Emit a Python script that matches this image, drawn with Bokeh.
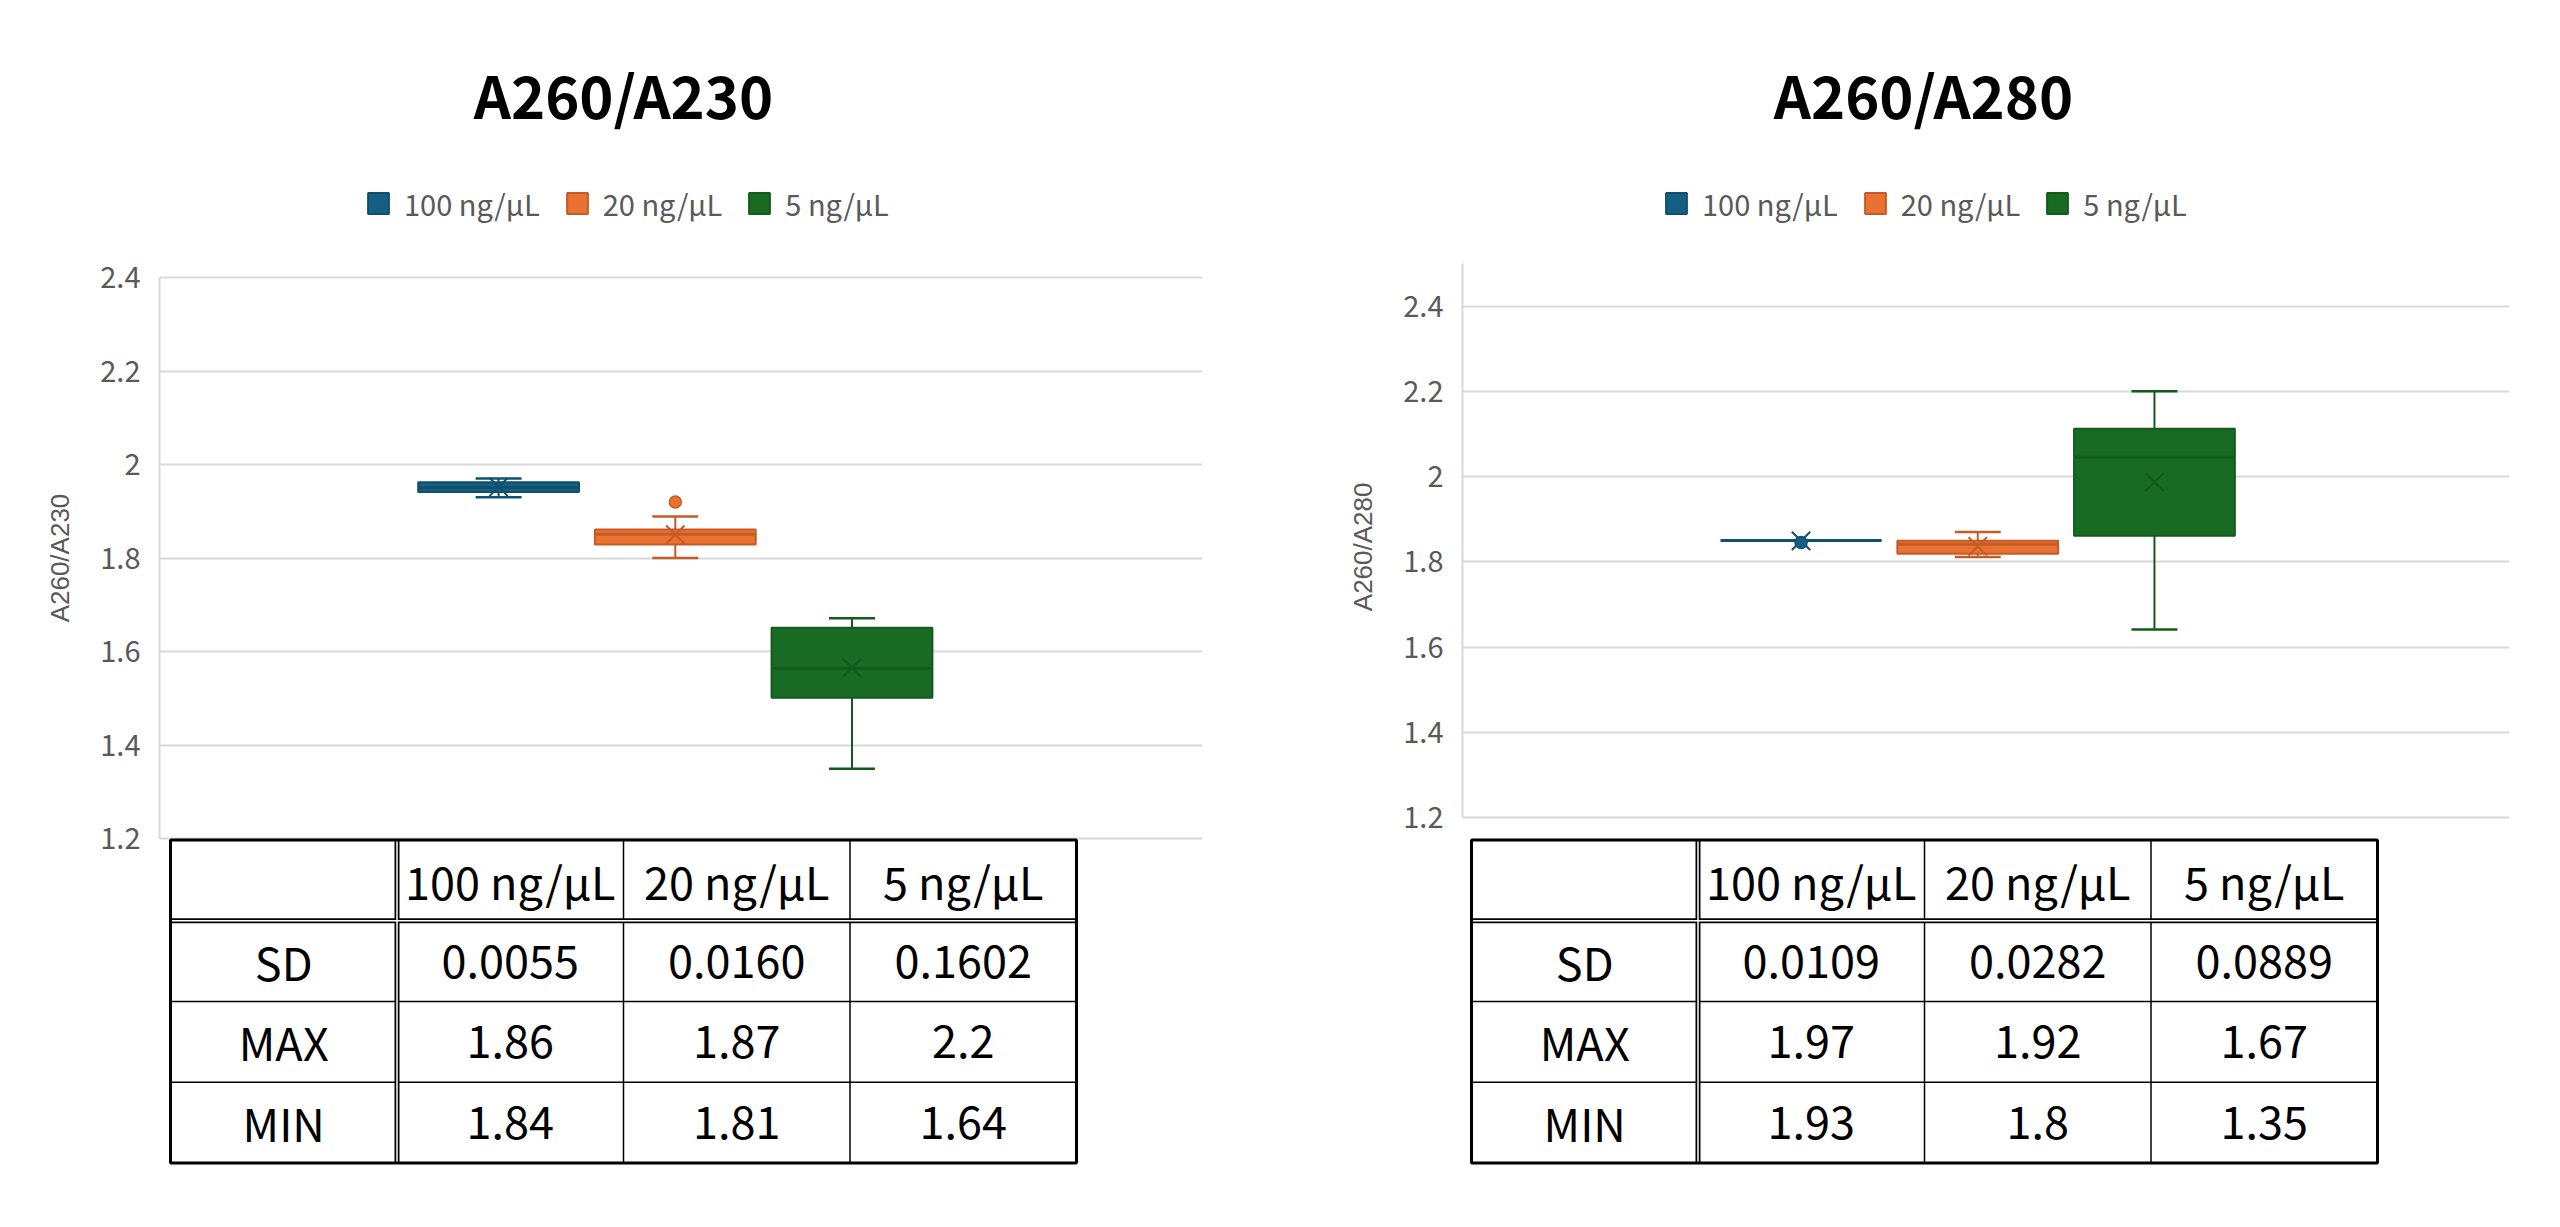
from bokeh.plotting import figure
from bokeh.models import Range1d, FixedTicker, Legend, LegendItem, Label, Title
from bokeh.layouts import row
from bokeh.embed import file_html
from bokeh.resources import INLINE
from bokeh.core.properties import value

# ---------------- data ----------------
categories = ["100 ng/μL", "20 ng/μL", "5 ng/μL"]

# A260/A230 box statistics
a230_q1 = [1.941, 1.829, 1.501]
a230_median = [1.951, 1.851, 1.564]
a230_q3 = [1.962, 1.861, 1.651]
a230_low = [1.930, 1.800, 1.349]
a230_high = [1.970, 1.889, 1.671]
a230_mean = [1.952, 1.850, 1.565]
a230_outlier_cat = ["20 ng/μL"]
a230_outlier_val = [1.920]

# A260/A280 box statistics
a280_q1 = [1.850, 1.819, 1.861]
a280_median = [1.850, 1.841, 2.045]
a280_q3 = [1.850, 1.849, 2.112]
a280_low = [1.850, 1.811, 1.641]
a280_high = [1.850, 1.870, 2.200]
a280_mean = [1.849, 1.836, 1.987]
a280_outlier_cat = ["100 ng/μL"]
a280_outlier_val = [1.845]

ytick_values = [1.2, 1.4, 1.6, 1.8, 2.0, 2.2, 2.4]
ytick_labels = ["1.2", "1.4", "1.6", "1.8", "2", "2.2", "2.4"]

table_row_labels = ["SD", "MAX", "MIN"]
left_table_sd = ["0.0055", "0.0160", "0.1602"]
left_table_max = ["1.86", "1.87", "2.2"]
left_table_min = ["1.84", "1.81", "1.64"]
right_table_sd = ["0.0109", "0.0282", "0.0889"]
right_table_max = ["1.97", "1.92", "1.67"]
right_table_min = ["1.93", "1.8", "1.35"]

# ---------------- style / layout ----------------
FILL = ["#156082", "#E97132", "#196B24"]
EDGE = ["#10506E", "#C45C26", "#135A1D"]
GRID = "#D9D9D9"
TXT = "#595959"
JP = "Noto Sans CJK JP"
FIG_H = 1210           # frame spans the full height
BOX_W = 0.91
CAP_W = 0.26
CAT_PX = 176.7
ROW_PX = 80.75
COL_PX = 226.5
TABLE_TOP_PX = 839.5   # table top border, px from top of figure
YLABEL_SIZE = 26
YLABEL_LEN_EM = 4.95   # approx. length of "A260/A2x0" in em


def make_panel(title, ylabel, ylabel_mid, q1, med, q3, lo, hi, mean, out_cat, out_val,
               fig_w, b_left, b_right, x_start, base_px, px_per_unit, axis_top,
               table_left_px, tbl, legend_x, title_x):
    frame_w = fig_w - b_left - b_right
    x_end = x_start + frame_w / CAT_PX
    y_start = 1.2 - (FIG_H - base_px) / px_per_unit
    y_end = 1.2 + base_px / px_per_unit

    p = figure(width=fig_w, height=FIG_H, title=None, toolbar_location=None,
               output_backend="svg", x_range=Range1d(x_start, x_end),
               y_range=Range1d(y_start, y_end), x_axis_location=None,
               min_border_left=b_left, min_border_right=b_right,
               min_border_top=0, min_border_bottom=0)
    p.outline_line_color = None
    p.background_fill_color = "white"
    p.border_fill_color = "white"
    p.xgrid.visible = False

    ticker = FixedTicker(ticks=ytick_values)
    ax = p.yaxis[0]
    ax.ticker = ticker
    ax.major_label_overrides = dict(zip(ytick_values, ytick_labels))
    ax.bounds = (1.2, axis_top)
    ax.axis_line_color = GRID
    ax.axis_line_width = 2
    ax.major_tick_line_color = None
    ax.minor_tick_line_color = None
    ax.major_tick_out = 0
    ax.major_tick_in = 0
    ax.major_label_standoff = 19
    ax.major_label_text_font = JP
    ax.major_label_text_font_size = "29px"
    ax.major_label_text_color = TXT

    g = p.ygrid[0]
    g.ticker = ticker
    g.grid_line_color = GRID
    g.grid_line_width = 2

    # vertical axis title, placed so that it is centred on the tick span
    label_center_px = base_px - (ylabel_mid - 1.2) * px_per_unit
    label_start_px = label_center_px + YLABEL_LEN_EM * YLABEL_SIZE / 2
    p.add_layout(Title(text=ylabel, align="left", offset=FIG_H - label_start_px,
                       text_font="Liberation Sans", text_font_style="normal",
                       text_font_size=f"{YLABEL_SIZE}px", text_color=TXT,
                       standoff=46), "left")

    n = len(categories)
    pos = [i - (n - 1) / 2 for i in range(n)]
    items = []
    for i in range(n):
        r = p.vbar(x=[pos[i]], width=BOX_W, bottom=[q1[i]], top=[q3[i]],
                   fill_color=FILL[i], line_color=EDGE[i], line_width=2)
        items.append(LegendItem(label=categories[i], renderers=[r]))
        p.segment(x0=[pos[i] - BOX_W / 2], x1=[pos[i] + BOX_W / 2],
                  y0=[med[i]], y1=[med[i]], line_color=EDGE[i], line_width=3)
        p.segment(x0=[pos[i], pos[i]], x1=[pos[i], pos[i]],
                  y0=[q3[i], q1[i]], y1=[hi[i], lo[i]],
                  line_color=EDGE[i], line_width=2)
        p.segment(x0=[pos[i] - CAP_W / 2] * 2, x1=[pos[i] + CAP_W / 2] * 2,
                  y0=[hi[i], lo[i]], y1=[hi[i], lo[i]],
                  line_color=EDGE[i], line_width=2.5)
        p.scatter(x=[pos[i]], y=[mean[i]], marker="x", size=26,
                  line_color=EDGE[i], line_width=2)
    for c, v in zip(out_cat, out_val):
        i = categories.index(c)
        p.scatter(x=[pos[i]], y=[v], marker="circle", size=12,
                  fill_color=FILL[i], line_color=EDGE[i], line_width=1.5)

    legend = Legend(items=items, location=(legend_x, FIG_H - 224),
                    orientation="horizontal",
                    glyph_width=26, glyph_height=26, label_height=26,
                    label_text_font=JP, label_text_font_size="29px",
                    label_text_color=TXT, label_standoff=13, spacing=24,
                    padding=0, margin=0, border_line_color=None,
                    background_fill_alpha=0)
    p.add_layout(legend)

    p.add_layout(Label(x=title_x, y=FIG_H - 93, x_units="screen", y_units="screen",
                       text=title, text_font=JP, text_font_style="bold",
                       text_font_size="58px", text_color="black",
                       text_align="center", text_baseline="middle"))

    # ---------------- statistics table (own ranges) ----------------
    ncols = len(categories) + 1
    nrows = len(table_row_labels) + 1
    tx0 = -(table_left_px - b_left) / COL_PX
    tx1 = tx0 + frame_w / COL_PX
    ty1 = nrows + TABLE_TOP_PX / ROW_PX
    ty0 = nrows - (FIG_H - TABLE_TOP_PX) / ROW_PX
    p.extra_x_ranges = {"tx": Range1d(tx0, tx1)}
    p.extra_y_ranges = {"ty": Range1d(ty0, ty1)}
    kw = dict(x_range_name="tx", y_range_name="ty")

    p.quad(left=[0], right=[ncols], bottom=[0], top=[nrows], fill_color="white",
           line_color=None, **kw)
    hy = list(range(1, nrows - 1))
    p.segment(x0=[0] * len(hy), x1=[ncols] * len(hy), y0=hy, y1=hy,
              line_color="black", line_width=1.5, **kw)
    vx = list(range(2, ncols))
    p.segment(x0=vx, x1=vx, y0=[0] * len(vx), y1=[nrows] * len(vx),
              line_color="black", line_width=1.5, **kw)
    p.segment(x0=[0, 1], x1=[ncols, 1], y0=[nrows - 1, 0], y1=[nrows - 1, nrows],
              line_color="black", line_width=5, **kw)
    p.segment(x0=[0, 1], x1=[ncols, 1], y0=[nrows - 1, 0], y1=[nrows - 1, nrows],
              line_color="white", line_width=1.5, **kw)
    p.quad(left=[0], right=[ncols], bottom=[0], top=[nrows], fill_color=None,
           line_color="black", line_width=3, **kw)

    xs, ys, txt = [], [], []
    for c, cat in enumerate(categories):
        xs.append(c + 1.5); ys.append(nrows - 0.5); txt.append(cat)
    for j, lab in enumerate(table_row_labels):
        yc = nrows - 1.5 - j
        xs.append(0.5); ys.append(yc); txt.append(lab)
        for c in range(len(categories)):
            xs.append(c + 1.5); ys.append(yc); txt.append(tbl[j][c])
    p.text(x=xs, y=ys, text=txt, text_font=value(JP), text_font_size="45px",
           text_color="black", text_align="center", text_baseline="middle", **kw)
    return p


left_panel = make_panel("A260/A230", "A260/A230", 1.8, a230_q1, a230_median, a230_q3,
                        a230_low, a230_high, a230_mean, a230_outlier_cat, a230_outlier_val,
                        1280, 159, 78, -2.919, 838, 467.5, 2.4, 170,
                        [left_table_sd, left_table_max, left_table_min], 206, 464)
right_panel = make_panel("A260/A280", "A260/A280", 1.835, a280_q1, a280_median, a280_q3,
                         a280_low, a280_high, a280_mean, a280_outlier_cat, a280_outlier_val,
                         1270, 182, 41, -2.916, 817, 426.25, 2.5, 191,
                         [right_table_sd, right_table_max, right_table_min], 201, 461)

layout = row(left_panel, right_panel)

open("out.html", "w").write(file_html(layout, INLINE, "A260 ratios"))
